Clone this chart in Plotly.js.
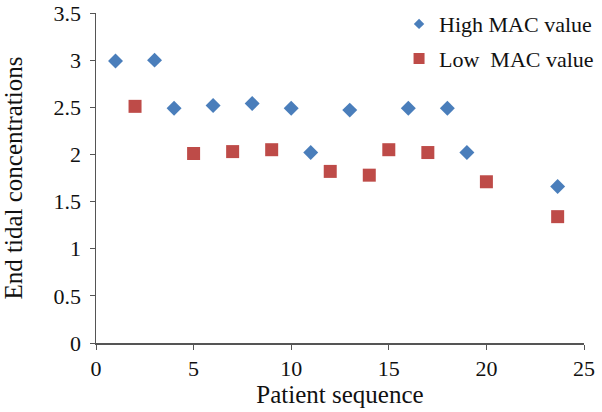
<!DOCTYPE html>
<html>
<head>
<meta charset="utf-8">
<script src="https://cdn.plot.ly/plotly-3.0.1.min.js"></script>
<style>html,body{margin:0;padding:0;background:#fff;}#chart{width:602px;height:412px;}</style>
</head>
<body>
<div id="chart"></div>
<script>
const highX = [1, 3, 4, 6, 8, 10, 11, 13, 16, 18, 19, 23.65];
const highY = [2.99, 3.0, 2.49, 2.52, 2.54, 2.49, 2.02, 2.47, 2.49, 2.49, 2.02, 1.66];
const lowX = [2, 5, 7, 9, 12, 14, 15, 17, 20, 23.65];
const lowY = [2.51, 2.01, 2.03, 2.05, 1.82, 1.78, 2.05, 2.02, 1.71, 1.34];
const seriesNames = ["High MAC value", "Low\u00a0 MAC value"];
const xTicks = [0, 5, 10, 15, 20, 25];
const yTicks = [0, 0.5, 1, 1.5, 2, 2.5, 3, 3.5];

const font = "Liberation Serif, Times New Roman, serif";
const blue = "#4A7EBB", red = "#BE4B48";
const traces = [
  {x: highX, y: highY, name: seriesNames[0], type: "scatter", mode: "markers", showlegend: false,
   marker: {symbol: "diamond", size: 11.5, color: blue}},
  {x: lowX, y: lowY, name: seriesNames[1], type: "scatter", mode: "markers", showlegend: false,
   marker: {symbol: "square", size: 13, color: red}},
  {x: [null], y: [null], name: seriesNames[0], type: "scatter", mode: "markers", legendgroup: "a",
   marker: {symbol: "diamond", size: 8, color: blue}},
  {x: [null], y: [null], name: seriesNames[1], type: "scatter", mode: "markers", legendgroup: "b",
   marker: {symbol: "square", size: 11, color: red}}
];
const layout = {
  width: 602, height: 412,
  margin: {l: 96, r: 18, t: 13, b: 69, autoexpand: false},
  paper_bgcolor: "#fff", plot_bgcolor: "#fff",
  font: {family: font, color: "#111", size: 22},
  showlegend: true,
  legend: {x: 0.621, y: 1.03, xanchor: "left", yanchor: "top", font: {family: font, size: 22, color: "#111"},
           bgcolor: "rgba(0,0,0,0)", traceorder: "grouped", tracegroupgap: 3, itemwidth: 30},
  xaxis: {range: [0, 25], tickvals: xTicks, ticktext: xTicks.map(String), showgrid: false, zeroline: false,
          showline: true, linecolor: "#555", linewidth: 1.5, ticks: "outside", ticklen: 5, tickcolor: "#555",
          tickfont: {family: font, size: 22}, title: {text: "Patient sequence", font: {family: font, size: 25}, standoff: 2}},
  yaxis: {range: [0, 3.5], tickvals: yTicks, ticktext: yTicks.map(String), showgrid: false, zeroline: false,
          showline: true, linecolor: "#555", linewidth: 1.5, ticks: "outside", ticklen: 5, tickcolor: "#555",
          ticklabelstandoff: 4,
          tickfont: {family: font, size: 22}, title: {text: "End tidal concentrations", font: {family: font, size: 25}, standoff: 26}}
};
Plotly.newPlot("chart", traces, layout, {staticPlot: true, displayModeBar: false});
</script>
</body>
</html>
